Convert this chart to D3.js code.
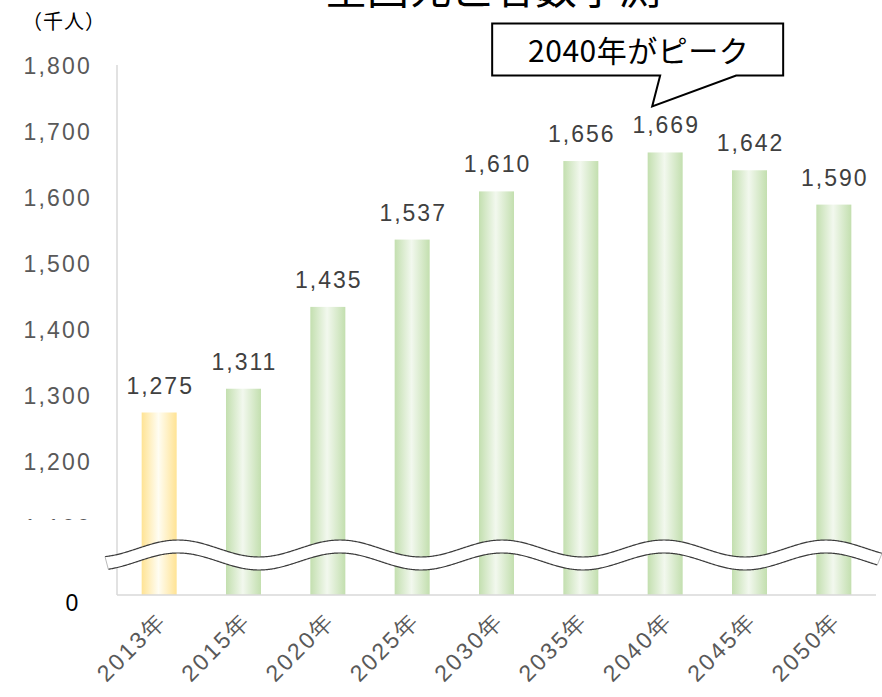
<!DOCTYPE html>
<html><head><meta charset="utf-8">
<script src="https://cdn.jsdelivr.net/npm/d3@7"></script>
<style>body{margin:0;background:#fff;} svg{display:block}</style>
</head><body>
<script>
const categories = ["2013年","2015年","2020年","2025年","2030年","2035年","2040年","2045年","2050年"];
const values = [1275,1311,1435,1537,1610,1656,1669,1642,1590];
const highlightCategory = "2013年";
const yTicks = [1100,1200,1300,1400,1500,1600,1700,1800];
const titleText = "全国死亡者数予測";
const unitText = "（千人）";
const calloutText = "2040年がピーク";
const calloutCategory = "2040年";

const W = 882, H = 697;
const numFont = "'Liberation Sans', Arial, sans-serif";
const jpFont = "'Noto Sans CJK JP', sans-serif";
const fmt = d3.format(",");

const svg = d3.select("body").append("svg").attr("width", W).attr("height", H);

const x = d3.scaleBand().domain(categories).range([117, 876]).paddingInner(0.585).paddingOuter(0.2925);
const y = d3.scaleLinear().domain([0, 1100, 1800]).range([595, 528, 66]);

const defs = svg.append("defs");
function grad(id, edge, mid) {
  const g = defs.append("linearGradient").attr("id", id).attr("x1", 0).attr("x2", 1).attr("y1", 0).attr("y2", 0);
  g.append("stop").attr("offset", "0%").attr("stop-color", edge);
  g.append("stop").attr("offset", "48%").attr("stop-color", mid);
  g.append("stop").attr("offset", "100%").attr("stop-color", edge);
}
grad("gYellow", "#FFE394", "#FFFDF2");
grad("gGreen", "#C3DFAF", "#F2F8EE");

// title (cut off at top, as in the reference)
svg.append("text").attr("x", 493).attr("y", 4).attr("text-anchor", "middle")
  .attr("font-family", jpFont).attr("font-size", 42).attr("fill", "#000").text(titleText);

// unit
svg.append("text").attr("x", 22).attr("y", 29)
  .attr("font-family", jpFont).attr("font-size", 20).attr("letter-spacing", 1).attr("fill", "#000").text(unitText);

// y axis line
svg.append("line").attr("x1", 117).attr("x2", 117).attr("y1", y(1800) - 1).attr("y2", y(0))
  .attr("stroke", "#D9D9D9").attr("stroke-width", 1.5);

// bars
const bw = x.bandwidth();
svg.append("g").selectAll("rect").data(categories).join("rect")
  .attr("x", d => x(d)).attr("width", bw)
  .attr("y", (d, i) => y(values[i])).attr("height", (d, i) => y(0) - y(values[i]))
  .attr("fill", d => d === highlightCategory ? "url(#gYellow)" : "url(#gGreen)");

svg.append("line").attr("x1", 117).attr("x2", 876).attr("y1", y(0)).attr("y2", y(0))
  .attr("stroke", "#D9D9D9").attr("stroke-width", 1.5);

// y tick labels
const yAxis = svg.append("g").attr("transform", "translate(117,0)")
  .call(d3.axisLeft(y).tickValues(yTicks).tickSize(0).tickPadding(25).tickFormat(fmt));
yAxis.select(".domain").remove();
yAxis.selectAll("text").attr("font-family", numFont).attr("font-size", 23)
  .attr("fill", "#595959").attr("letter-spacing", 2.2);

// cover for the hidden 1,100 label
svg.append("rect").attr("x", 0).attr("y", y(1100) - 8).attr("width", 112).attr("height", 40).attr("fill", "#fff");

// "0" label
svg.append("text").attr("x", 72).attr("y", y(0) + 8).attr("dy", "0.35em").attr("text-anchor", "middle")
  .attr("font-family", numFont).attr("font-size", 23).attr("fill", "#000").text("0");

// value labels
svg.append("g").selectAll("text").data(categories).join("text")
  .attr("x", d => x(d) + bw / 2 + 1).attr("y", (d, i) => y(values[i]) - 19)
  .attr("text-anchor", "middle").attr("font-family", numFont).attr("font-size", 23)
  .attr("letter-spacing", 2).attr("fill", "#404040")
  .text((d, i) => fmt(values[i]));

// wave break
const waveMid = 548.5, amp = 8.5, period = 162, phase = 178, gap = 13;
const topPts = d3.range(105, 882.1, 1).map(px => [px, waveMid - amp * Math.cos(2 * Math.PI * (px - phase) / period)]);
const botPts = d3.range(108.3, 878.1, 1).map(px => [px, waveMid + gap - amp * Math.cos(2 * Math.PI * (px - phase) / period)]);
const line = d3.line();
svg.append("path").attr("d", line(topPts.concat(botPts.slice().reverse())) + "Z").attr("fill", "#fff");
svg.append("path").attr("d", line(topPts)).attr("fill", "none").attr("stroke", "#3a3a3a").attr("stroke-width", 1.2);
svg.append("path").attr("d", line(botPts)).attr("fill", "none").attr("stroke", "#3a3a3a").attr("stroke-width", 1.2);
svg.append("line").attr("x1", topPts[0][0]).attr("y1", topPts[0][1]).attr("x2", botPts[0][0]).attr("y2", botPts[0][1])
  .attr("stroke", "#bbb").attr("stroke-width", 1);
svg.append("line").attr("x1", topPts[topPts.length - 1][0]).attr("y1", topPts[topPts.length - 1][1])
  .attr("x2", botPts[botPts.length - 1][0]).attr("y2", botPts[botPts.length - 1][1])
  .attr("stroke", "#bbb").attr("stroke-width", 1);

// x labels
svg.append("g").selectAll("text").data(categories).join("text")
  .attr("transform", d => `translate(${x(d) + bw / 2 + 3},${y(0) + 21}) rotate(-45)`)
  .attr("text-anchor", "end").attr("dy", "0.35em")
  .attr("font-family", numFont).attr("font-size", 23).attr("letter-spacing", 2.5)
  .attr("fill", "#595959").text(d => d);

// callout
const ci = categories.indexOf(calloutCategory);
const tipX = x(calloutCategory) + bw / 2 - 13, tipY = y(values[ci]) - 46;
const bx0 = tipX - 160, bx1 = tipX + 131, by0 = tipY - 83, by1 = tipY - 31;
svg.append("path")
  .attr("d", `M${bx0},${by0}H${bx1}V${by1}H${tipX + 84}L${tipX},${tipY}L${tipX + 8},${by1}H${bx0}Z`)
  .attr("fill", "#fff").attr("stroke", "#000").attr("stroke-width", 2).attr("stroke-linejoin", "miter");
svg.append("text").attr("x", (bx0 + bx1) / 2 + 1).attr("y", by1 - 13).attr("text-anchor", "middle")
  .attr("font-family", jpFont).attr("font-size", 30).attr("letter-spacing", 0.5).attr("fill", "#000").text(calloutText);
</script>
</body></html>
